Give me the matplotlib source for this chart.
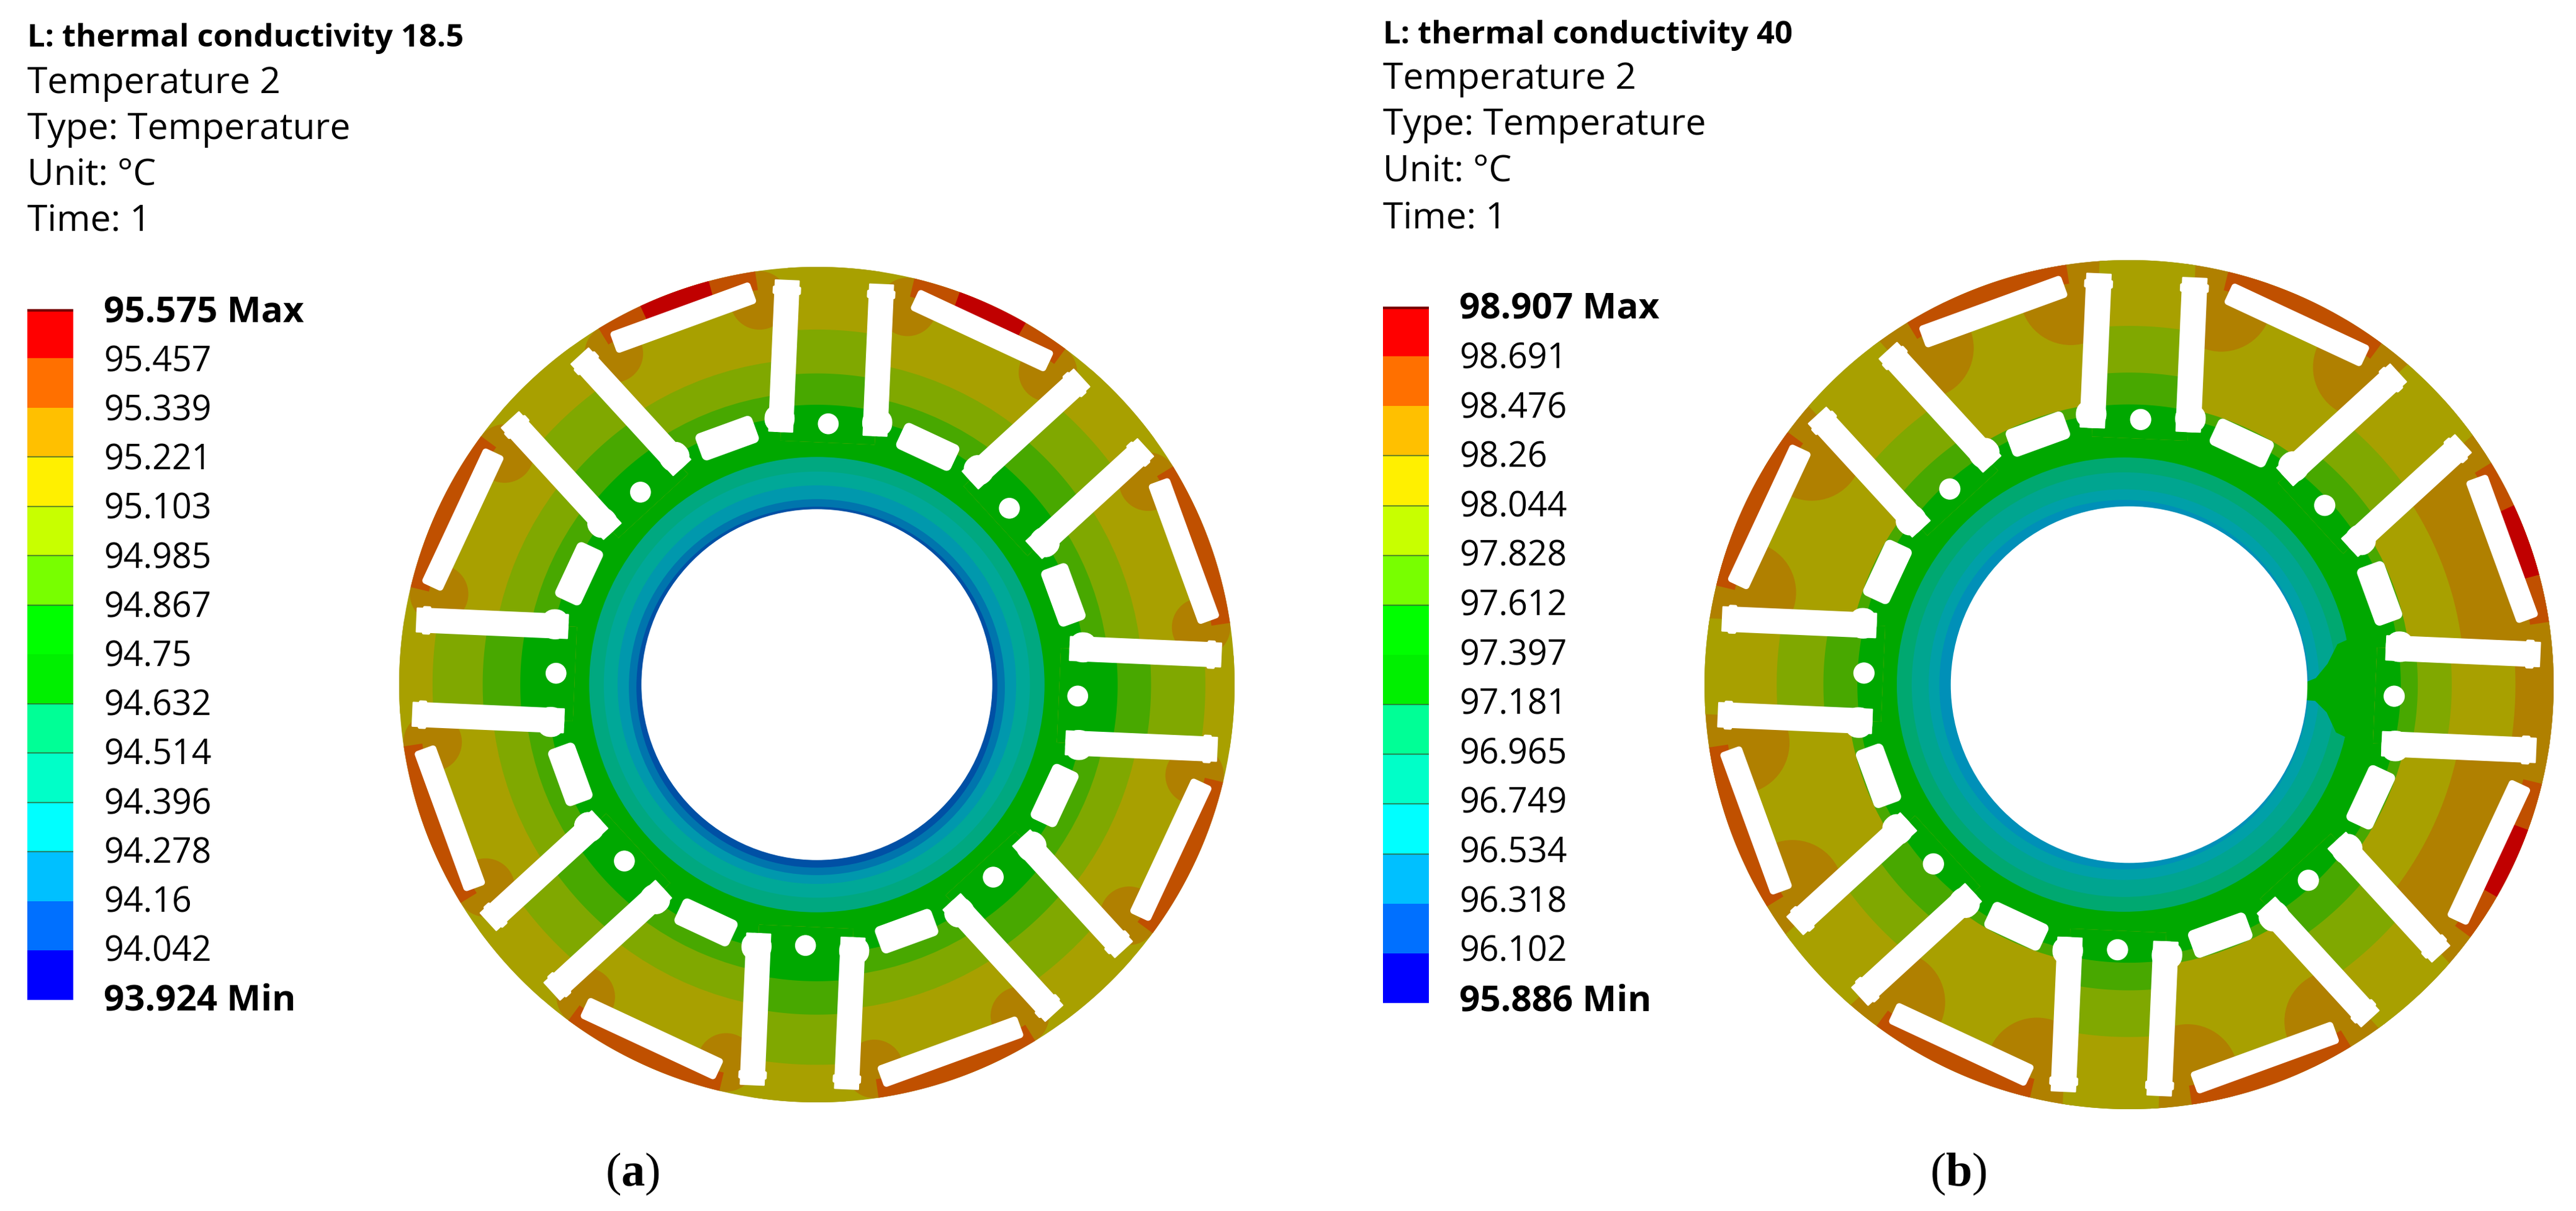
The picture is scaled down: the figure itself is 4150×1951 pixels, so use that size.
#!/usr/bin/env python3
import matplotlib
matplotlib.use('Agg')
import matplotlib.pyplot as plt
from matplotlib.patches import Circle, Polygon
import numpy as np

plt.rcParams['font.family'] = ['Open Sans', 'DejaVu Sans']
plt.rcParams['mathtext.fontset'] = 'custom'
plt.rcParams['mathtext.bf'] = 'Liberation Serif:bold'

# legend values
labels_a = ['95.575 Max', '95.457', '95.339', '95.221', '95.103', '94.985', '94.867', '94.75',
            '94.632', '94.514', '94.396', '94.278', '94.16', '94.042', '93.924 Min']
labels_b = ['98.907 Max', '98.691', '98.476', '98.26', '98.044', '97.828', '97.612', '97.397',
            '97.181', '96.965', '96.749', '96.534', '96.318', '96.102', '95.886 Min']
legend_colors = ['#ff0000', '#ff7000', '#ffc000', '#fff000', '#c8ff00', '#78ff00', '#00ff00',
                 '#00f000', '#00ff96', '#00ffc8', '#00ffff', '#00c0ff', '#0070ff', '#0000ff']
head_a = ['Temperature 2', 'Type: Temperature', 'Unit: °C', 'Time: 1']
head_b = head_a

# muted colours of the plot itself
RED, RUST, BROWN, OLIVE = '#c00000', '#c05000', '#b08000', '#a8a000'
LIME, MOSS, GREEN = '#80a800', '#48a800', '#00a800'

# the poles and the gaps between them, degrees
pole_angles = [87.5, 42.5, -2.5, -47.5, -92.5, -137.5, 177.5, 132.5]
gap_angles = [65, 20, -25, -70, -115, -160, 155, 110]

# band edges, as a fraction of the disk radius
gap_edges_a = [0.78, 0.70, 0.645]
gap_edges_b = [0.68, 0.665, 0.64]
pole_edges_a = [[0.85, 0.88, 0.93, 0.88, 0.91, 0.88, 0.92, 0.88],
                [0.745, 0.77, 0.80, 0.77, 0.79, 0.77, 0.80, 0.77],
                [0.67, 0.69, 0.72, 0.69, 0.71, 0.69, 0.71, 0.69]]
pole_edges_b = [[0.845, 0.80, 0.76, 0.84, 0.83, 0.82, 0.83, 0.80],
                [0.735, 0.70, 0.68, 0.72, 0.72, 0.72, 0.72, 0.70],
                [0.66, 0.64, 0.64, 0.64, 0.655, 0.64, 0.64, 0.64]]
cold_edges_a = [0.545, 0.51, 0.477, 0.45, 0.432]
cold_edges_b = [0.535, 0.50, 0.46, 0.435]
cold_colors_a = ['#00a880', '#00a898', '#0098ad', '#0075ad', '#0050a5']
cold_colors_b = ['#00a870', '#00a590', '#00a0a8', '#0090b8']
notch_r = [0.42, 0.44, 0.47, 0.50, 0.54, 0.54, 0.50, 0.47, 0.44, 0.42]
notch_a = [1, 2, 6, 11, 12, -14, -13, -8, -5, -5]
red_gaps_a = [65, 110]
red_gaps_b = [20, -25]


def pts(cx, cy, u, v, ang):
    t = np.radians(ang)
    u, v = np.asarray(u, float), np.asarray(v, float)
    return np.column_stack([cx + u * np.cos(t) - v * np.sin(t), cy - (u * np.sin(t) + v * np.cos(t))])


def sector(ax, cx, cy, r0, r1, a0, a1, color, z):
    a = np.linspace(a0, a1, 60)
    t = np.radians(np.r_[a, a[::-1]])
    r = np.r_[np.full(60, r1), np.full(60, r0)]
    ax.add_patch(Polygon(np.column_stack([cx + r * np.cos(t), cy - r * np.sin(t)]), fc=color, ec='none', zorder=z))


def round_rect(ax, cx, cy, u0, u1, hw, rad, ang, off=0.0, z=10):
    q = np.linspace(0, np.pi / 2, 8)
    u = np.r_[u1 - rad + rad * np.sin(q), u1 - rad + rad * np.cos(q), u0 + rad - rad * np.sin(q), u0 + rad - rad * np.cos(q)]
    v = np.r_[hw - rad + rad * np.cos(q), -hw + rad - rad * np.sin(q), -hw + rad - rad * np.cos(q), hw - rad + rad * np.sin(q)]
    ax.add_patch(Polygon(pts(cx, cy, u, v + off, ang), fc='white', ec='none', zorder=z))


def rotor(ax, cx, cy, R, gap_edges, pole_edges, cold_edges, cold_colors, red_gaps, corner, hot_side):
    disk = Circle((cx, cy), R, fc=OLIVE, ec='none', zorder=1)
    ax.add_patch(disk)
    band_colors = [LIME, MOSS, GREEN]

    # hot patches at the slot ends
    for g in gap_angles:
        for s in (-1, 1):
            t = np.radians(g + s * 11.5)
            c = Circle((cx + 0.93 * R * np.cos(t), cy - 0.93 * R * np.sin(t)), corner * R, fc=BROWN, ec='none', zorder=2)
            ax.add_patch(c)
            c.set_clip_path(disk)
    if hot_side:
        sector(ax, cx, cy, 0.79 * R, R, -47, 42, BROWN, 2)

    for e, c in zip(gap_edges, band_colors):
        if not (hot_side and c == LIME):
            ax.add_patch(Circle((cx, cy), e * R, fc=c, ec='none', zorder=3))

    # strips between the slots of a pair
    hw = 0.113 * R
    v = np.linspace(-hw, hw, 30)
    for i, a in enumerate(pole_angles):
        edges = [1.0] + [row[i] for row in pole_edges]
        colors = [OLIVE] + band_colors
        if hot_side and a == -2.5:
            edges = [1.0, 0.91] + edges[1:]
            colors = [BROWN, OLIVE] + band_colors
        for e, c in zip(edges, colors):
            u = np.sqrt((e * R) ** 2 - v ** 2)
            outline = pts(cx, cy, np.r_[u, 0.58 * R, 0.58 * R], np.r_[v, hw, -hw], a)
            ax.add_patch(Polygon(outline, fc=c, ec='none', zorder=4))

    # green ring under the slots, then the cold rings
    dx = -0.012 * R if hot_side else 0
    for k, (e, c) in enumerate(zip(cold_edges, cold_colors)):
        # the darkest rings sit a little low, so they show more under the hole
        dy = 0.006 * R if not hot_side and k >= 3 else 0
        ax.add_patch(Circle((cx + dx, cy + dy), e * R, fc=c, ec='none', zorder=5))
    if hot_side:
        r = np.array(notch_r) * R
        t = np.radians(notch_a)
        ax.add_patch(Polygon(np.column_stack([cx + r * np.cos(t), cy - r * np.sin(t)]), fc=GREEN, ec='none', zorder=6))

    # rim outside the tangential slots
    for g in gap_angles:
        sector(ax, cx, cy, 0.955 * R, R, g - 11.5, g + 11.5, RUST, 7)
        if g in red_gaps:
            sector(ax, cx, cy, 0.955 * R, R, g - 5, g + 5, RED, 8)

    # white cut-outs
    ax.add_patch(Circle((cx, cy), 0.42 * R, fc='white', ec='none', zorder=10))
    for a in pole_angles:
        for s in (-1, 1):
            off = s * 0.113 * R
            round_rect(ax, cx, cy, 0.60 * R, 0.965 * R, 0.030 * R, 0.002 * R, a, off)
            round_rect(ax, cx, cy, 0.60 * R, 0.665 * R, 0.036 * R, 0.03 * R, a, off + s * 0.004 * R)
            round_rect(ax, cx, cy, 0.93 * R, 0.95 * R, 0.034 * R, 0.004 * R, a, off)
        p = pts(cx, cy, [0.625 * R], [0], a)[0]
        ax.add_patch(Circle(p, 0.025 * R, fc='white', ec='none', zorder=10))
    for g in gap_angles:
        round_rect(ax, cx, cy, -0.178 * R, 0.178 * R, 0.027 * R, 0.008 * R, g - 90, 0.935 * R * -1)
        round_rect(ax, cx, cy, -0.072 * R, 0.072 * R, 0.034 * R, 0.012 * R, g - 90, 0.628 * R * -1)


def legend(ax, x, top, bottom, width, tx, base, pitch, labels):
    step = (bottom - top) / len(legend_colors)
    y = top + step * np.arange(len(legend_colors))
    ax.bar(np.full(len(y), x), np.full(len(y), step), bottom=y, width=width, align='edge', color=legend_colors, linewidth=0)
    ax.plot([x, x + width], [top + 2, top + 2], color='#7a0000', lw=3, solid_capstyle='butt')
    for k in (3, 4, 5, 6, 8, 9, 10, 11):
        ax.plot([x, x + width], [y[k], y[k]], color='#306030', lw=1.5, solid_capstyle='butt', alpha=0.7)
    for i, s in enumerate(labels):
        bold = i == 0 or i == len(labels) - 1
        ax.text(tx, base + i * pitch, s, fontsize=42 if bold else 40, va='baseline', ha='left', color='black',
                fontweight='bold' if bold else 'normal')


def header(ax, x, bases, title, lines):
    ax.text(x, bases[0], title, fontsize=36.5, va='baseline', ha='left', fontweight='bold')
    for b, s in zip(bases[1:], lines):
        ax.text(x, b, s, fontsize=42.3, va='baseline', ha='left')


fig = plt.figure(figsize=(41.5, 19.51), dpi=100)
ax = fig.add_axes([0, 0, 1, 1])
ax.set_xlim(0, 4150)
ax.set_ylim(1951, 0)
ax.axis('off')

header(ax, 44, [75, 150, 224, 298, 372], 'L: thermal conductivity 18.5', head_a)
header(ax, 2228, [70, 143, 217, 292, 367], 'L: thermal conductivity 40', head_b)
legend(ax, 44, 498, 1611, 74, 167, 519, 79.2, labels_a)
legend(ax, 2228, 494, 1616, 74, 2351, 514, 79.6, labels_b)

rotor(ax, 1316, 1103, 673, gap_edges_a, pole_edges_a, cold_edges_a, cold_colors_a, red_gaps_a, 0.07, False)
rotor(ax, 3430, 1103, 684, gap_edges_b, pole_edges_b, cold_edges_b, cold_colors_b, red_gaps_b, 0.12, True)

for x, s in [(1019, r'($\mathbf{a}$)'), (3155, r'($\mathbf{b}$)')]:
    ax.text(x, 1910, s, fontsize=55, ha='center', va='baseline', family=['Liberation Serif'])

fig.savefig('out.png', dpi=100)
